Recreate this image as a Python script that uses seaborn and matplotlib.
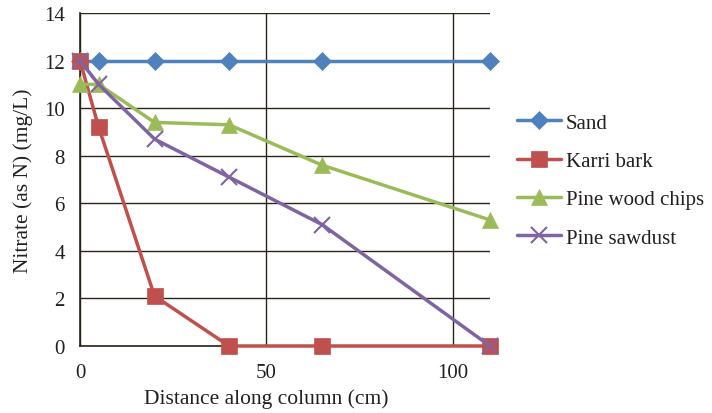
import pandas as pd
import numpy as np
import seaborn as sns
import matplotlib.pyplot as plt

# distances along the column (cm)
distance = [0, 5, 20, 40, 65, 110]

sand = [12, 12, 12, 12, 12, 12]
karri_bark = [12, 9.2, 2.1, 0, 0, 0]
pine_wood_chips = [11, 11, 9.4, 9.3, 7.6, 5.3]
pine_sawdust = [12, 11, 8.7, 7.1, 5.1, 0]

names = ['Sand', 'Karri bark', 'Pine wood chips', 'Pine sawdust']
colors = ['#4F81BD', '#C0504D', '#9BBB59', '#8064A2']
markers = ['D', 's', '^', 'x']
msizes = [9, 11, 11, 11]

sns.set_style('white')
plt.rcParams['font.family'] = ['Liberation Serif', 'DejaVu Serif']
txt = '#231f20'
grid_c = '#2b2519'

fig = plt.figure(figsize=(7.12, 4.14), dpi=100)
ax = fig.add_axes([80/712, 67/414, 410/712, 333/414])

for name, vals, c, m, ms in zip(names, [sand, karri_bark, pine_wood_chips, pine_sawdust], colors, markers, msizes):
    df = pd.DataFrame({'x': distance, 'y': vals})
    sns.lineplot(data=df, x='x', y='y', ax=ax, color=c, marker=m, markersize=ms,
                 markeredgecolor=c, markeredgewidth=1.5 if m == 'x' else 0.5,
                 linewidth=2.5, label=name, clip_on=False, zorder=3)

ax.set_xlim(0, 110)
ax.set_ylim(0, 14)
ax.set_xticks([0, 50, 100])
ax.set_yticks(np.arange(0, 15, 2))
ax.grid(True, color=grid_c, linewidth=1)
ax.set_axisbelow(True)
for s in ['top', 'right']:
    ax.spines[s].set_visible(False)
for s in ['left', 'bottom']:
    ax.spines[s].set_color(grid_c)
    ax.spines[s].set_linewidth(1.2)
ax.tick_params(axis='both', length=6, width=1, color=grid_c, labelsize=15, labelcolor=txt, direction='out')
ax.tick_params(axis='x', pad=6)
ax.tick_params(axis='y', pad=5)
ax.set_xlabel('Distance along column (cm)', fontsize=15.5, color=txt)
ax.xaxis.set_label_coords((266 - 80) / 410, -0.127)
ax.set_ylabel('Nitrate (as N) (mg/L)', fontsize=15.5, color=txt, labelpad=8)

ax.legend(loc='upper left', bbox_to_anchor=(517/712, 1 - 114/414), bbox_transform=fig.transFigure,
          frameon=False, fontsize=15, borderpad=0, borderaxespad=0,
          handlelength=2.1, labelspacing=0.9, handletextpad=0.25, labelcolor=txt)

fig.savefig('out.png', dpi=100)
